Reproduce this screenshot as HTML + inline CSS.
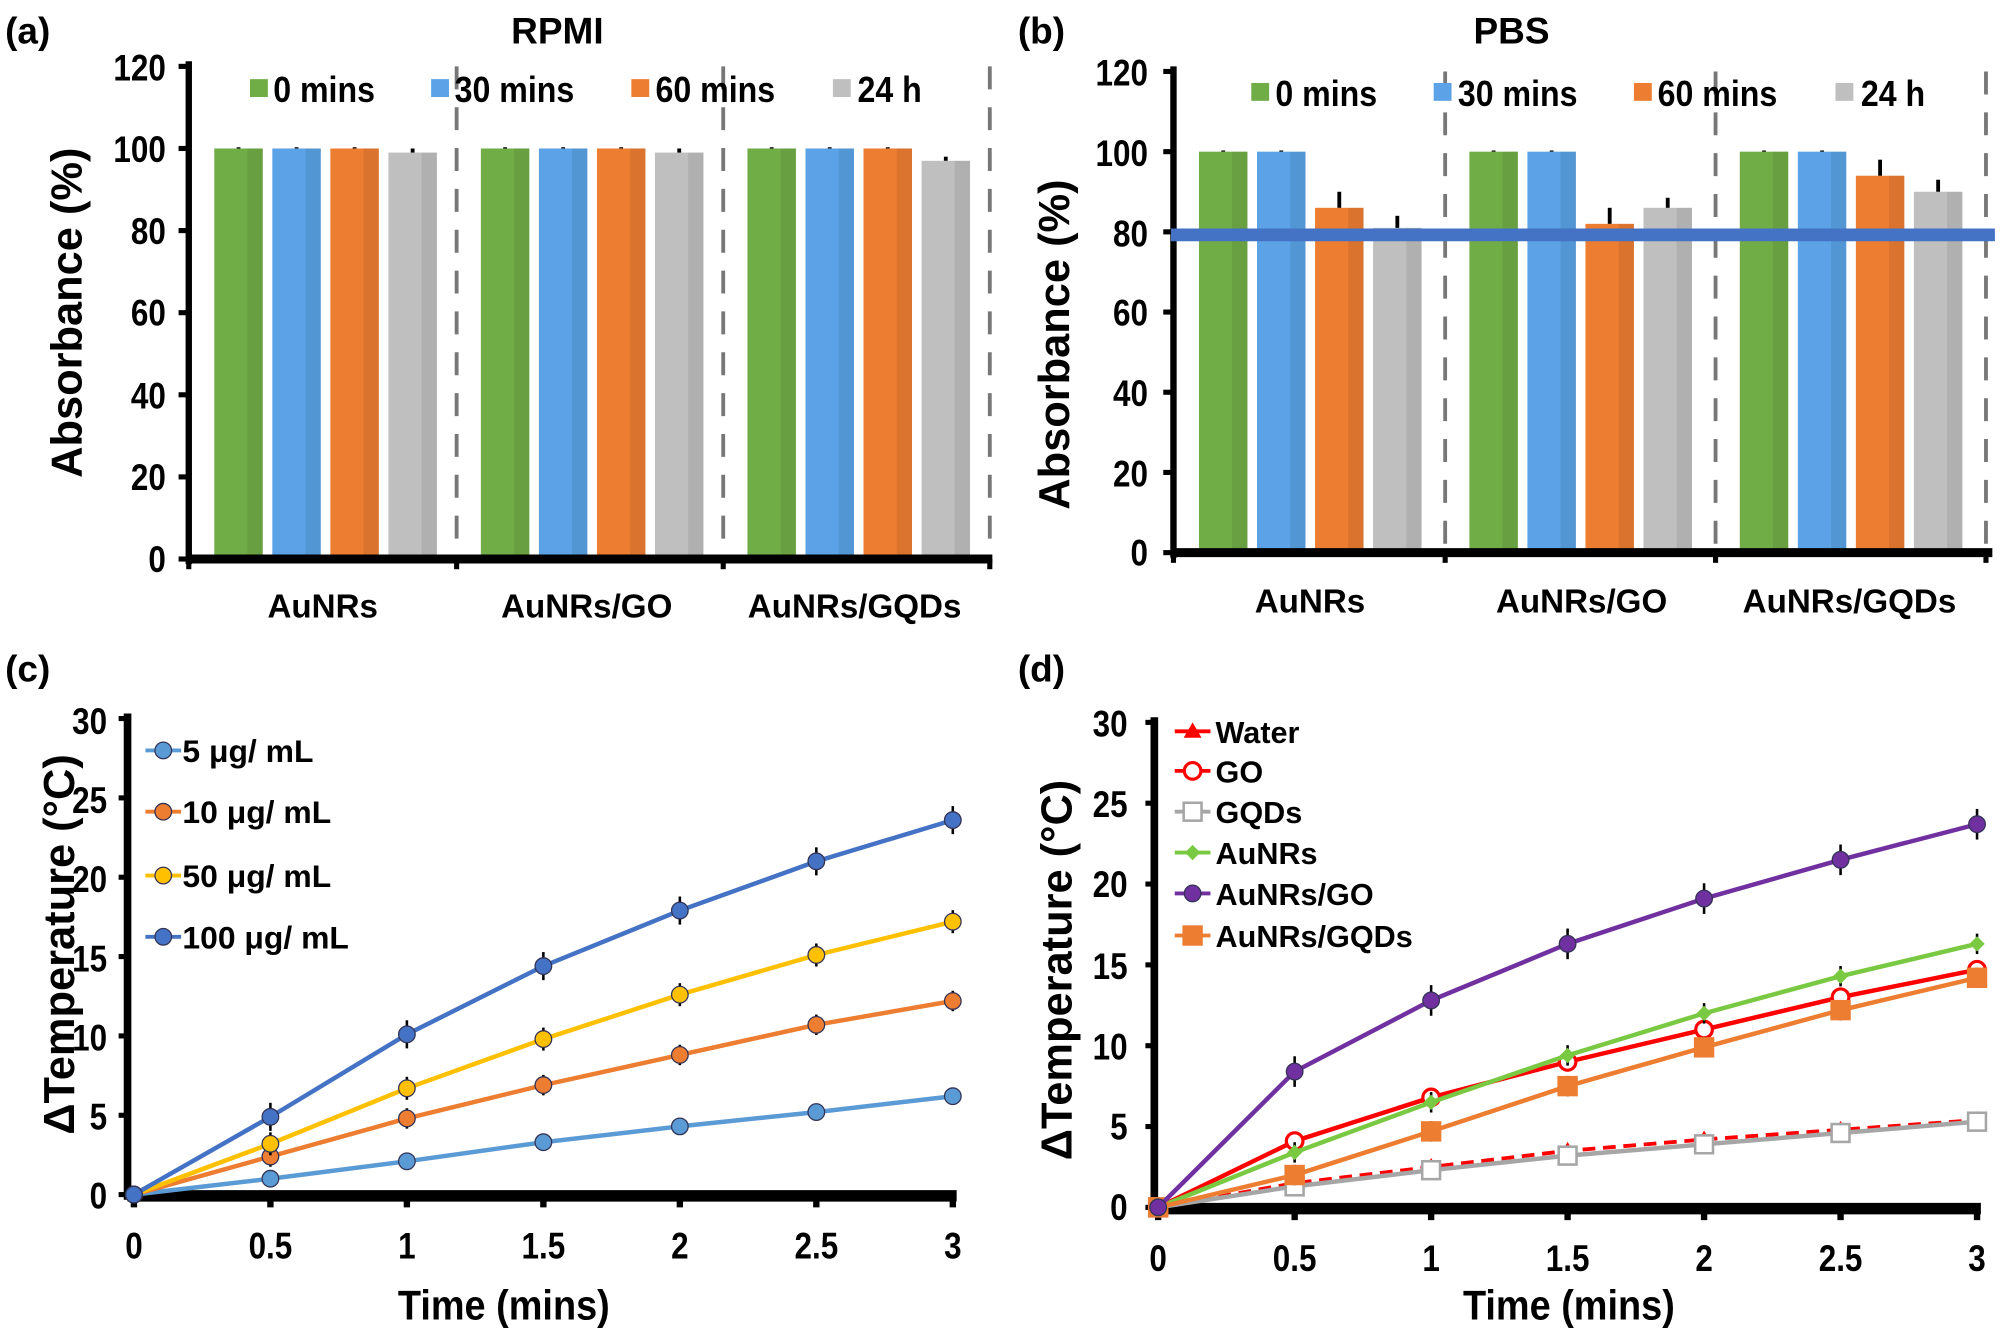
<!DOCTYPE html>
<html><head><meta charset="utf-8"><style>
html,body{margin:0;padding:0;background:#fff;}
svg{display:block;}
text{font-family:"Liberation Sans",Arial,sans-serif;font-weight:bold;fill:#000;}
.n{font-size:29px;}
.t{font-size:29px;}
.lg{font-size:28px;}
.cat{font-size:26px;}
</style></head><body>
<svg id="s" width="2000" height="1335" viewBox="0 0 1568 1046" preserveAspectRatio="none" xmlns="http://www.w3.org/2000/svg">
<g id="g"></g>
<!-- Panel a text -->
<text x="4" y="34" class="t">(a)</text>
<text x="437" y="34" class="t" text-anchor="middle">RPMI</text>
<g text-anchor="end">
<text transform="translate(130,63) scale(0.85,1)" class="n">120</text><text transform="translate(130,127) scale(0.85,1)" class="n">100</text><text transform="translate(130,191) scale(0.85,1)" class="n">80</text><text transform="translate(130,255) scale(0.85,1)" class="n">60</text><text transform="translate(130,320) scale(0.85,1)" class="n">40</text><text transform="translate(130,384) scale(0.85,1)" class="n">20</text><text transform="translate(130,448) scale(0.85,1)" class="n">0</text>
</g>
<text transform="translate(64,245) rotate(-90)" text-anchor="middle" style="font-size:34px">Absorbance (%)</text>
<text x="214" y="80" class="lg" transform="translate(32,0) scale(0.85,1)" style="display:none"></text>
<g transform="scale(0.9,1)">
<text x="238" y="80" class="lg">0 mins</text><text x="396" y="80" class="lg">30 mins</text><text x="571" y="80" class="lg">60 mins</text><text x="747" y="80" class="lg">24 h</text>
<text x="1111" y="83" class="lg">0 mins</text><text x="1270" y="83" class="lg">30 mins</text><text x="1444" y="83" class="lg">60 mins</text><text x="1621" y="83" class="lg">24 h</text>
</g>
<text x="253" y="484" class="cat" text-anchor="middle">AuNRs</text>
<text x="460" y="484" class="cat" text-anchor="middle">AuNRs/GO</text>
<text x="670" y="484" class="cat" text-anchor="middle">AuNRs/GQDs</text>
<!-- Panel b text -->
<text x="798" y="34" class="t">(b)</text>
<text x="1185" y="34" class="t" text-anchor="middle">PBS</text>
<g text-anchor="end">
<text transform="translate(900,67) scale(0.85,1)" class="n">120</text><text transform="translate(900,130) scale(0.85,1)" class="n">100</text><text transform="translate(900,193) scale(0.85,1)" class="n">80</text><text transform="translate(900,255) scale(0.85,1)" class="n">60</text><text transform="translate(900,318) scale(0.85,1)" class="n">40</text><text transform="translate(900,381) scale(0.85,1)" class="n">20</text><text transform="translate(900,443) scale(0.85,1)" class="n">0</text>
</g>
<text transform="translate(838,270) rotate(-90)" text-anchor="middle" style="font-size:34px">Absorbance (%)</text>
<text x="1027" y="480" class="cat" text-anchor="middle">AuNRs</text>
<text x="1240" y="480" class="cat" text-anchor="middle">AuNRs/GO</text>
<text x="1450" y="480" class="cat" text-anchor="middle">AuNRs/GQDs</text>
<!-- Panel c text -->
<text x="4" y="534" class="t">(c)</text>
<g text-anchor="end">
<text transform="translate(84,575) scale(0.85,1)" class="n">30</text><text transform="translate(84,637) scale(0.85,1)" class="n">25</text><text transform="translate(84,699) scale(0.85,1)" class="n">20</text><text transform="translate(84,761) scale(0.85,1)" class="n">15</text><text transform="translate(84,823) scale(0.85,1)" class="n">10</text><text transform="translate(84,885) scale(0.85,1)" class="n">5</text><text transform="translate(84,947) scale(0.85,1)" class="n">0</text>
</g>
<g text-anchor="middle">
<text transform="translate(105,986) scale(0.85,1)" class="n">0</text><text transform="translate(212,986) scale(0.85,1)" class="n">0.5</text><text transform="translate(319,986) scale(0.85,1)" class="n">1</text><text transform="translate(426,986) scale(0.85,1)" class="n">1.5</text><text transform="translate(533,986) scale(0.85,1)" class="n">2</text><text transform="translate(640,986) scale(0.85,1)" class="n">2.5</text><text transform="translate(747,986) scale(0.85,1)" class="n">3</text>
</g>
<text transform="translate(395,1034) scale(0.9,1)" text-anchor="middle" style="font-size:33px">Time (mins)</text>
<text transform="translate(58,740) rotate(-90)" text-anchor="middle" style="font-size:34px">ΔTemperature (°C)</text>
<text x="143" y="597" style="font-size:25px">5 μg/ mL</text>
<text x="143" y="645" style="font-size:25px">10 μg/ mL</text>
<text x="143" y="695" style="font-size:25px">50 μg/ mL</text>
<text x="143" y="743" style="font-size:25px">100 μg/ mL</text>
<!-- Panel d text -->
<text x="798" y="534" class="t">(d)</text>
<g text-anchor="end">
<text transform="translate(884,577) scale(0.85,1)" class="n">30</text><text transform="translate(884,640) scale(0.85,1)" class="n">25</text><text transform="translate(884,703) scale(0.85,1)" class="n">20</text><text transform="translate(884,767) scale(0.85,1)" class="n">15</text><text transform="translate(884,830) scale(0.85,1)" class="n">10</text><text transform="translate(884,893) scale(0.85,1)" class="n">5</text><text transform="translate(884,956) scale(0.85,1)" class="n">0</text>
</g>
<g text-anchor="middle">
<text transform="translate(908,996) scale(0.85,1)" class="n">0</text><text transform="translate(1015,996) scale(0.85,1)" class="n">0.5</text><text transform="translate(1122,996) scale(0.85,1)" class="n">1</text><text transform="translate(1229,996) scale(0.85,1)" class="n">1.5</text><text transform="translate(1336,996) scale(0.85,1)" class="n">2</text><text transform="translate(1443,996) scale(0.85,1)" class="n">2.5</text><text transform="translate(1550,996) scale(0.85,1)" class="n">3</text>
</g>
<text transform="translate(1230,1034) scale(0.9,1)" text-anchor="middle" style="font-size:33px">Time (mins)</text>
<text transform="translate(840,760) rotate(-90)" text-anchor="middle" style="font-size:34px">ΔTemperature (°C)</text>
<text x="953" y="582" style="font-size:24px">Water</text>
<text x="953" y="613" style="font-size:24px">GO</text>
<text x="953" y="645" style="font-size:24px">GQDs</text>
<text x="953" y="677" style="font-size:24px">AuNRs</text>
<text x="953" y="709" style="font-size:24px">AuNRs/GO</text>
<text x="953" y="742" style="font-size:24px">AuNRs/GQDs</text>
</svg>
<script>
const g=document.getElementById('g');const NS='http://www.w3.org/2000/svg';
function el(t,a){const e=document.createElementNS(NS,t);for(const k in a)e.setAttribute(k,a[k]);g.appendChild(e);return e;}
const C=['#70ad47','#5ba3e6','#ed7d31','#bfbfbf'];
function bars(ax,y0,y120,xEnd,first,step,dash,vals,errs,legY,legX){
 const s=(y0-y120)/120;
 el('line',{x1:ax,y1:y120-4,x2:ax,y2:y0+4,stroke:'#000','stroke-width':5});
 for(let i=0;i<=6;i++){const y=y0-i*20*s;el('line',{x1:ax-8,y1:y,x2:ax,y2:y,stroke:'#000','stroke-width':4});}
 dash.forEach(x=>el('line',{x1:x,y1:y120,x2:x,y2:y0,stroke:'#777','stroke-width':3,'stroke-dasharray':'18,14'}));
 for(let gI=0;gI<3;gI++)for(let b=0;b<4;b++){const x=first+gI*step+b*45.5;const v=vals[gI][b];const y=y0-v*s;
  el('rect',{x:x,y:y,width:38,height:y0-y,fill:C[b]});
  el('rect',{x:x+26,y:y,width:12,height:y0-y,fill:'#000',opacity:0.08});
  const e=errs[gI][b]*s;el('line',{x1:x+19,y1:y-e,x2:x+19,y2:y,stroke:'#000','stroke-width':3});}
 el('line',{x1:ax,y1:y0,x2:xEnd,y2:y0,stroke:'#000','stroke-width':7});
 [ax,dash[0],dash[1],dash[2]].forEach(x=>el('line',{x1:x,y1:y0,x2:x,y2:y0+8,stroke:'#000','stroke-width':4}));
 legX.forEach((x,i)=>el('rect',{x:x,y:legY-8,width:14,height:14,fill:C[i]}));
}
bars(148,438,52,778,168,209,[358,567,776],[[100,100,100,99],[100,100,100,99],[100,100,100,97]],[[.3,.3,.3,1],[.3,.3,.3,1],[.3,.3,.3,1]],70,[196,338,495,653]);
bars(920,433,56,1562,940,212,[1133,1345,1557],[[100,100,86,81],[100,100,82,86],[100,100,94,90]],[[.3,.3,4,3],[.3,.3,4,2.5],[.3,.3,4,3]],73,[981,1124,1281,1439]);
el('line',{x1:918,y1:184,x2:1564,y2:184,stroke:'#4472c4','stroke-width':10});
function lines(ax,x0,y0,y30,series){
 const s=(y0-y30)/30,dx=107;
 el('line',{x1:ax,y1:y30-4,x2:ax,y2:y0+4,stroke:'#000','stroke-width':6});
 for(let i=0;i<=6;i++){const y=y0-i*5*s;el('line',{x1:ax-7,y1:y,x2:ax,y2:y,stroke:'#000','stroke-width':4});
  el('line',{x1:x0+i*dx,y1:y0,x2:x0+i*dx,y2:y0+10,stroke:'#000','stroke-width':5});}
 el('line',{x1:ax,y1:y0+1,x2:x0+6*dx+3,y2:y0+1,stroke:'#000','stroke-width':9});
 series.forEach(S=>{
  const pts=S.v.map((v,i)=>[x0+i*dx,y0-v*s]);
  el('polyline',{points:pts.map(p=>p.join(',')).join(' '),fill:'none',stroke:S.c,'stroke-width':S.w||3.5,'stroke-dasharray':S.d||'none'});
  pts.forEach((p,i)=>{ if(i>0&&S.e){el('line',{x1:p[0],y1:p[1]-S.e,x2:p[0],y2:p[1]+S.e,stroke:'#000','stroke-width':2});}
   mark(S.m,p[0],p[1],S.c,S.f);});
  if(S.ly){el('line',{x1:S.lx-14,y1:S.ly,x2:S.lx+14,y2:S.ly,stroke:S.c,'stroke-width':3});mark(S.m,S.lx,S.ly,S.c,S.f);}
 });
}
function mark(m,x,y,c,f){
 if(m==='c')el('circle',{cx:x,cy:y,r:6.5,fill:f||c,stroke:f?c:'#335',"stroke-width":f?2.5:1});
 else if(m==='s')el('rect',{x:x-7,y:y-7,width:14,height:14,fill:f||c,stroke:c,'stroke-width':2});
 else if(m==='t')el('polygon',{points:`${x},${y-7} ${x+7},${y+5} ${x-7},${y+5}`,fill:c});
 else if(m==='d')el('polygon',{points:`${x},${y-6} ${x+6},${y} ${x},${y+6} ${x-6},${y}`,fill:c});
}
lines(100,105,936,563,[
 {v:[0,1,2.1,3.3,4.3,5.2,6.2],c:'#5b9bd5',m:'c',e:0.5,lx:128,ly:588},
 {v:[0,2.4,4.8,6.9,8.8,10.7,12.2],c:'#ed7d31',m:'c',e:8,lx:128,ly:636},
 {v:[0,3.2,6.7,9.8,12.6,15.1,17.2],c:'#ffc000',m:'c',e:9,lx:128,ly:686},
 {v:[0,4.9,10.1,14.4,17.9,21,23.6],c:'#4472c4',m:'c',e:11,lx:128,ly:734}]);
lines(905,908,946,566,[
 {v:[0,1.5,2.5,3.5,4.2,4.8,5.4],c:'#ff0000',m:'t',d:'10,6',w:3,lx:935,ly:573},
 {v:[0,1.3,2.3,3.2,3.9,4.6,5.3],c:'#a6a6a6',m:'s',f:'#fff',e:5,lx:935,ly:636},
 {v:[0,4.1,6.8,9,11,13,14.7],c:'#ff0000',m:'c',f:'#fff',e:7,lx:935,ly:604},
 {v:[0,3.4,6.5,9.4,12,14.3,16.3],c:'#7ac943',m:'d',e:8,lx:935,ly:668},
 {v:[0,2,4.7,7.5,9.9,12.2,14.2],c:'#ed7d31',m:'s',e:8,lx:935,ly:733},
 {v:[0,8.4,12.8,16.3,19.1,21.5,23.7],c:'#7030a0',m:'c',e:12,lx:935,ly:700}]);
</script>
</body></html>
